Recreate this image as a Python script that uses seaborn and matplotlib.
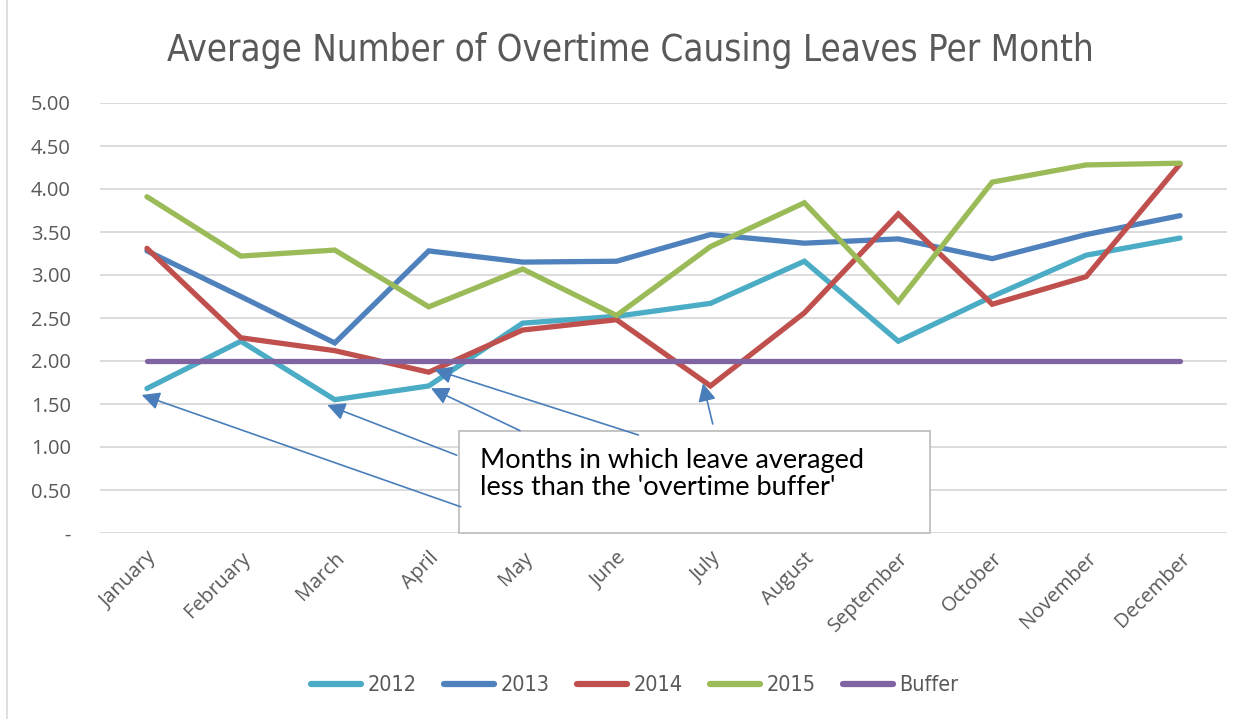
import matplotlib
matplotlib.use("Agg")
import matplotlib.pyplot as plt
import seaborn as sns
import pandas as pd
from matplotlib.lines import Line2D
from matplotlib.patches import Rectangle

months = ["January", "February", "March", "April", "May", "June", "July",
          "August", "September", "October", "November", "December"]
v2012 = [1.68, 2.23, 1.55, 1.71, 2.44, 2.52, 2.67, 3.16, 2.23, 2.75, 3.23, 3.43]
v2013 = [3.28, 2.75, 2.21, 3.28, 3.15, 3.16, 3.47, 3.37, 3.42, 3.19, 3.47, 3.69]
v2014 = [3.31, 2.27, 2.12, 1.87, 2.36, 2.48, 1.71, 2.56, 3.71, 2.66, 2.98, 4.29]
v2015 = [3.91, 3.22, 3.29, 2.63, 3.07, 2.53, 3.33, 3.84, 2.69, 4.08, 4.28, 4.30]
buffer = [2.00] * 12
series_names = ["2012", "2013", "2014", "2015", "Buffer"]
series_vals = [v2012, v2013, v2014, v2015, buffer]
colors = ["#4BACC6", "#4F81BD", "#C0504D", "#9BBB59", "#8064A2"]
yticks = [0, 0.5, 1.0, 1.5, 2.0, 2.5, 3.0, 3.5, 4.0, 4.5, 5.0]
ytick_labels = ["-", "0.50", "1.00", "1.50", "2.00", "2.50", "3.00", "3.50", "4.00", "4.50", "5.00"]
title = "Average Number of Overtime Causing Leaves Per Month"
note = "Months in which leave averaged\nless than the 'overtime buffer'"
# arrows: (month index, series value) the arrow points at
arrow_targets = [(0, v2012[0]), (2, v2012[2]), (3, v2012[3]), (3, v2014[3]), (6, v2014[6])]

rows = []
for name, vals in zip(series_names, series_vals):
    for i, v in enumerate(vals):
        rows.append({"idx": i, "value": v, "series": name})
df = pd.DataFrame(rows)

sns.set_theme(style="white")
plt.rcParams["font.family"] = ["Open Sans", "DejaVu Sans"]

fig = plt.figure(figsize=(12.5, 7.19), dpi=100)
ax = fig.add_axes([0.08, 1 - 533 / 719, 1127 / 1250, 430 / 719])

sns.lineplot(data=df, x="idx", y="value", hue="series", palette=colors,
             hue_order=series_names, sort=False, linewidth=3.8, ax=ax,
             legend=False, zorder=3)
for ln in ax.get_lines():
    ln.set_solid_capstyle("round")
    ln.set_solid_joinstyle("miter")

ax.set_xlim(-0.5, 11.5)
ax.set_ylim(0, 5)
ax.set_yticks(yticks)
ax.set_yticklabels(ytick_labels)
ax.set_xticks(range(12))
ax.set_xticklabels(months, rotation=45, ha="right", rotation_mode="anchor")
ax.tick_params(axis="both", length=0, labelsize=14.5, colors="#595959")
ax.tick_params(axis="y", pad=21)
ax.tick_params(axis="x", pad=11)
ax.set_xlabel("")
ax.set_ylabel("")
ax.yaxis.grid(True, color="#D9D9D9", linewidth=1.3)
ax.set_axisbelow(True)
for s in ax.spines.values():
    s.set_visible(False)

# annotation box
box_x0, box_x1, box_y1 = 0.3185, 0.7365, 0.237
ax.add_patch(Rectangle((box_x0, 0.0), box_x1 - box_x0, box_y1, transform=ax.transAxes,
                       facecolor="white", edgecolor="#BFBFBF", linewidth=1.3,
                       zorder=5, clip_on=False))
ax.text(box_x0 + 0.019, 0.198, note, transform=ax.transAxes, fontsize=19.5,
        family=["Lato", "DejaVu Sans"], color="black", va="top", ha="left",
        linespacing=1.12, zorder=6)

tails = [(0.320, 0.061), (0.3165, 0.181), (0.3727, 0.238), (0.4777, 0.228), (0.5437, 0.2535)]
offsets = [(-0.056, -0.075), (-0.08, -0.062), (0.024, -0.027), (0.06, 0.03), (-0.08, 0.03)]
for (i, v), (tx, ty), (dx, dy) in zip(arrow_targets, tails, offsets):
    ax.annotate("", xy=(i + dx, v + dy), xycoords="data",
                xytext=(tx, ty), textcoords="axes fraction",
                arrowprops=dict(arrowstyle="-|>,head_length=0.9,head_width=0.45",
                                color="#4A7EBB", linewidth=1.2,
                                shrinkA=0, shrinkB=0),
                zorder=7, annotation_clip=False)

fig.text(0.504, 0.93, title, ha="center", va="center", fontsize=26.3,
         color="#595959", family="DejaVu Sans", fontstretch="condensed")

handles = [Line2D([0], [0], color=c, linewidth=4.5, solid_capstyle="round") for c in colors]
fig.legend(handles, series_names, loc="center", bbox_to_anchor=(0.508, 0.047), ncol=5,
           frameon=False, handlelength=2.32, handletextpad=0.28,
           columnspacing=1.3, labelcolor="#595959",
           prop={"family": "DejaVu Sans", "stretch": "condensed", "size": 15.5})

fig.add_artist(Line2D([7 / 1250, 7 / 1250], [0, 1], color="#D9D9D9", linewidth=1.2,
                      transform=fig.transFigure))

fig.savefig("out.png", dpi=100, facecolor="white")
